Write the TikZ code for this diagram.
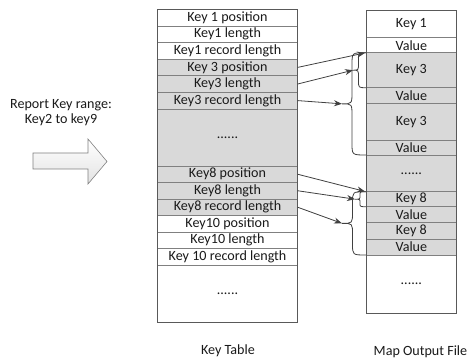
\documentclass[tikz,border=0pt]{standalone}
\usepackage{fontspec}
\setmainfont{Carlito}
\usetikzlibrary{arrows.meta,calc}
\definecolor{cellgray}{HTML}{D9D9D9}
\definecolor{bord}{HTML}{808080}
\definecolor{outerbord}{HTML}{595959}
\definecolor{conncol}{HTML}{404040}
\definecolor{txt}{HTML}{1A1A1A}
\tikzset{
  cell/.style={draw=bord, line width=0.6pt, inner sep=0pt, outer sep=0pt, font=\fontsize{14.1}{15}\selectfont, text=txt},
  gcell/.style={cell, fill=cellgray},
  wcell/.style={cell, fill=white},
  conn/.style={draw=conncol, line width=0.8pt, -{Stealth[length=8pt,width=6pt]}},
  brc/.style={draw=conncol, line width=0.8pt},
  lbl/.style={font=\fontsize{14.1}{15}\selectfont, inner sep=0pt, text=txt},
  blockarr/.style={draw=bord, line width=0.6pt, top color=white, bottom color=gray!22}
}
\newcommand\mycell[7]{%
  \pgfmathsetmacro\myc{(#4+#5)/2}%
  \pgfmathsetmacro\myh{#5-#4}%
  \node[#6, minimum width=#3pt, minimum height=\myh pt] (#1) at (#2,\myc) {#7};}
\newcommand\mybrace[5]{%
  \pgfmathsetmacro\bm{(#1+#2)/2}%
  \draw[brc] (366,#1) .. controls (#4,#1) .. (#4,#1+#5) -- (#4,\bm-#5)
    .. controls (#4,\bm) .. (#3,\bm) .. controls (#4,\bm) .. (#4,\bm+#5)
    -- (#4,#2-#5) .. controls (#4,#2) .. (366,#2);}
\begin{document}
\begin{tikzpicture}[x=1pt,y=-1pt]
\useasboundingbox (0,0) rectangle (467,361);
% Key table
\def\kx{227.5}\def\kw{140.4}
\mycell{k1p}{\kx}{\kw}{9.3}{25.9}{wcell}{Key 1 position}
\mycell{k1l}{\kx}{\kw}{25.9}{42.5}{wcell}{Key1 length}
\mycell{k1r}{\kx}{\kw}{42.5}{59.1}{wcell}{Key1 record length}
\mycell{k3p}{\kx}{\kw}{59.1}{75.7}{gcell}{Key 3 position}
\mycell{k3l}{\kx}{\kw}{75.7}{92.3}{gcell}{Key3 length}
\mycell{k3r}{\kx}{\kw}{92.3}{108.9}{gcell}{Key3 record length}
\mycell{kd1}{\kx}{\kw}{108.9}{166}{gcell}{......}
\mycell{k8p}{\kx}{\kw}{166}{182.5}{gcell}{Key8 position}
\mycell{k8l}{\kx}{\kw}{182.5}{199}{gcell}{Key8 length}
\mycell{k8r}{\kx}{\kw}{199}{215.5}{gcell}{Key8 record length}
\mycell{k10p}{\kx}{\kw}{215.5}{232}{wcell}{Key10 position}
\mycell{k10l}{\kx}{\kw}{232}{248.5}{wcell}{Key10 length}
\mycell{k10r}{\kx}{\kw}{248.5}{265}{wcell}{Key 10 record length}
\mycell{kd2}{\kx}{\kw}{265}{322.7}{wcell}{......}
\draw[outerbord, line width=0.6pt] (k1p.north west) rectangle (kd2.south east);
% Map output file
\def\mx{411.35}\def\mw{90.7}
\mycell{m1}{\mx}{\mw}{10}{37.7}{wcell}{Key 1}
\mycell{m1v}{\mx}{\mw}{37.7}{52.7}{wcell}{Value}
\mycell{m3a}{\mx}{\mw}{52.7}{87.7}{gcell}{Key 3}
\mycell{m3av}{\mx}{\mw}{87.7}{103.3}{gcell}{Value}
\mycell{m3b}{\mx}{\mw}{103.3}{140}{gcell}{Key 3}
\mycell{m3bv}{\mx}{\mw}{140}{155}{gcell}{Value}
\mycell{md1}{\mx}{\mw}{155}{191.7}{gcell}{......}
\mycell{m8a}{\mx}{\mw}{191.7}{206.7}{gcell}{Key 8}
\mycell{m8av}{\mx}{\mw}{206.7}{222.7}{gcell}{Value}
\mycell{m8b}{\mx}{\mw}{222.7}{239}{gcell}{Key 8}
\mycell{m8bv}{\mx}{\mw}{239}{255}{gcell}{Value}
\mycell{md2}{\mx}{\mw}{255}{313.3}{wcell}{......}
\draw[outerbord, line width=0.6pt] (m1.north west) rectangle (md2.south east);
% braces
\mybrace{52.7}{87.7}{353}{358.5}{7}
\mybrace{52.7}{155}{342}{352}{12}
\mybrace{191.7}{206.7}{355}{360}{3.5}
\mybrace{191.7}{255}{342}{352.5}{11}
\coordinate (t1) at (353,70.2);
\coordinate (t2) at (342,103.85);
\coordinate (t3) at (355,199.2);
\coordinate (t4) at (342,223.35);
% connectors
\draw[conn, shorten >=1pt] (k3p.east) -- (m3a.north west);
\draw[conn] (k3l.east) -- (t1);
\draw[conn] (k3r.east) -- (t2);
\draw[conn, shorten >=1pt] (k8p.east) -- (m8a.north west);
\draw[conn] (k8l.east) -- (t3);
\draw[conn] (k8r.east) -- (t4);
% left text and block arrow
\node[lbl] (rk1) at (61,105) {Report Key range:};
\node[lbl] (rk2) at (61,119.5) {Key2 to key9};
\draw[blockarr] (33,153) -- (88,153) -- (88,139) -- (107,161.5) -- (88,184) -- (88,169) -- (33,169) -- cycle;
% captions
\node[lbl] (cap1) at (228,351) {Key Table};
\node[lbl] (cap2) at (420.5,352) {Map Output File};
\end{tikzpicture}
\end{document}
